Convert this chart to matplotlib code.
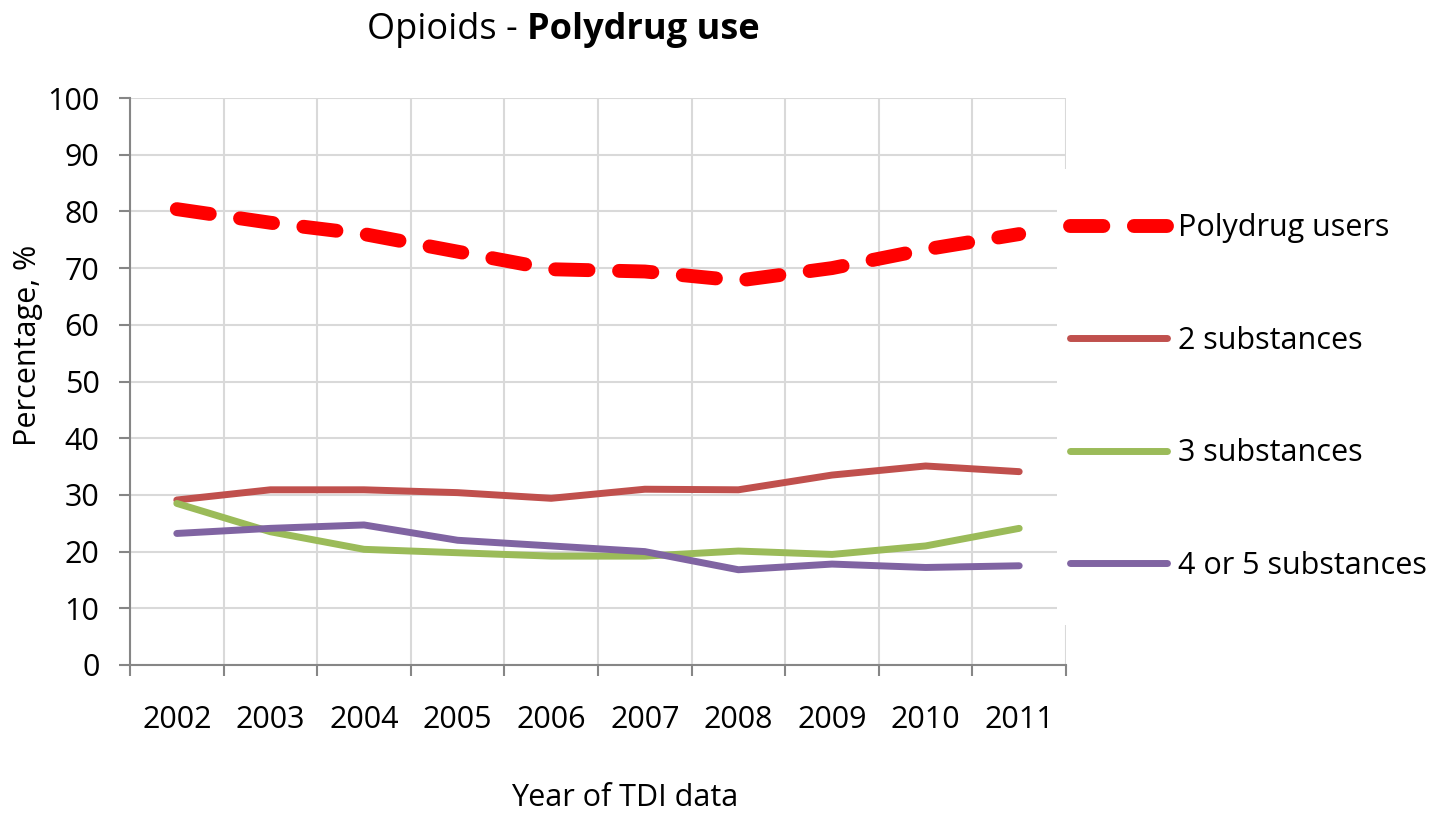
import matplotlib
matplotlib.use('Agg')
import matplotlib.pyplot as plt
from matplotlib.patches import Rectangle
import numpy as np

plt.rcParams['font.family'] = ['Open Sans', 'DejaVu Sans']

# values
years = ['2002', '2003', '2004', '2005', '2006', '2007', '2008', '2009', '2010', '2011']
polydrug = [80.4, 78.0, 76.0, 72.9, 69.8, 69.4, 67.8, 70.0, 73.3, 76.0]
two_subst = [29.1, 30.9, 30.9, 30.4, 29.4, 31.0, 30.9, 33.5, 35.1, 34.1]
three_subst = [28.5, 23.5, 20.4, 19.8, 19.2, 19.2, 20.1, 19.5, 21.0, 24.1]
four_five_subst = [23.2, 24.1, 24.7, 22.0, 21.0, 20.0, 16.8, 17.8, 17.2, 17.5]
labels = ['Polydrug users', '2 substances', '3 substances', '4 or 5 substances']

W, H = 1439, 817
fs = 22
fig = plt.figure(figsize=(W / 100, H / 100), dpi=100)
ax = fig.add_axes([130 / W, 152 / H, 936 / W, 567 / H])

x = np.arange(len(years))
l1, = ax.plot(x, polydrug, color='#FF0000', lw=10, dashes=(2.4, 2.2),
              dash_capstyle='round', solid_capstyle='round', zorder=3)
l2, = ax.plot(x, two_subst, color='#C0504D', lw=5, solid_capstyle='round',
              solid_joinstyle='round', zorder=3)
l3, = ax.plot(x, three_subst, color='#9BBB59', lw=5, solid_capstyle='round',
              solid_joinstyle='round', zorder=3)
l4, = ax.plot(x, four_five_subst, color='#8064A2', lw=5, solid_capstyle='round',
              solid_joinstyle='round', zorder=3)

ax.set_xlim(-0.5, len(years) - 0.5)
ax.set_ylim(0, 100)
ax.set_yticks(np.arange(0, 101, 10))
ax.set_xticks(x)
ax.set_xticklabels(years)
ax.set_xticks(np.arange(-0.5, len(years)), minor=True)

ax.set_axisbelow(True)
ax.grid(axis='y', which='major', color='#D9D9D9', lw=1.5)
ax.grid(axis='x', which='minor', color='#D9D9D9', lw=1.5)
ax.grid(axis='x', which='major', visible=False)

for s in ['top', 'right']:
    ax.spines[s].set_visible(False)
for s in ['left', 'bottom']:
    ax.spines[s].set_color('#868686')
    ax.spines[s].set_linewidth(1.5)

ax.tick_params(axis='y', which='major', length=8, width=1.5, color='#868686',
               pad=14, labelsize=fs)
ax.tick_params(axis='x', which='major', length=0, pad=29, labelsize=fs)
ax.tick_params(axis='x', which='minor', length=8, width=1.5, color='#868686')

# white block behind the legend hides the right edge of the grid
ax.add_patch(Rectangle((1057 / W, 1 - 625 / H), 382 / W, 456 / H,
                       transform=fig.transFigure, facecolor='white',
                       edgecolor='none', clip_on=False, zorder=2.5))

leg = ax.legend([l1, l2, l3, l4], labels, loc='center left',
                bbox_to_anchor=(1070 / W, 1 - 397 / H),
                bbox_transform=fig.transFigure, frameon=False,
                fontsize=fs, handlelength=3.17, handletextpad=0.36,
                labelspacing=2.7, borderpad=0, borderaxespad=0)
leg.set_zorder(4)

# title, normal part + bold part
r = fig.canvas.get_renderer()
t1 = fig.text(367 / W, 1 - 39 / H, 'Opioids - ', fontsize=26, va='baseline')
bb = t1.get_window_extent(renderer=r)
fig.text(bb.x1 / W, 1 - 39 / H, 'Polydrug use', fontsize=26,
         fontweight='bold', va='baseline')

fig.text(28 / W, 1 - 345 / H, 'Percentage, %', rotation=90, fontsize=fs,
         ha='center', va='center')
fig.text(625 / W, 1 - 798 / H, 'Year of TDI data', fontsize=fs,
         ha='center', va='center')

fig.savefig('out.png', dpi=100)
